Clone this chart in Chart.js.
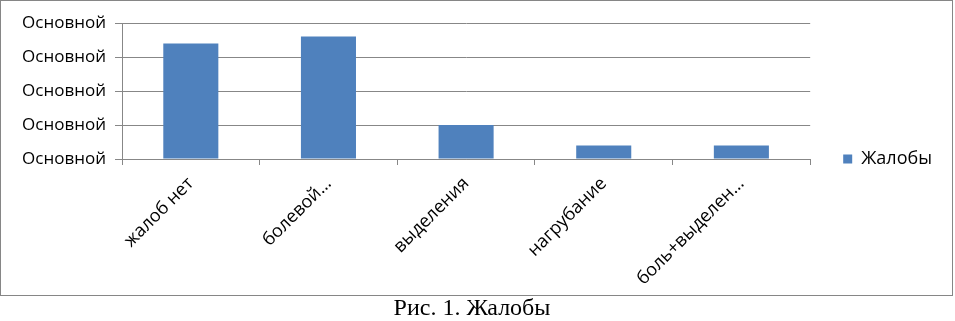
<!DOCTYPE html>
<html>
<head>
<meta charset="utf-8">
<script src="https://cdn.jsdelivr.net/npm/chart.js@4"></script>
<style>
  body { margin: 0; background: #fff; }
  .frame {
    position: absolute; left: 0; top: 0;
    width: 951px; height: 294px;
    border: 1px solid #868686;
  }
  .frame canvas { display: block; }
  .caption {
    position: absolute; left: 0; top: 294px; width: 944px;
    text-align: center;
    font-family: "Liberation Serif", "DejaVu Serif", serif;
    font-size: 24px; color: #000;
  }
</style>
</head>
<body>
<div class="frame"><canvas id="chart" width="951" height="294"></canvas></div>
<div class="caption">Рис. 1. Жалобы</div>
<script>
// данные диаграммы
const categories = ['жалоб нет', 'болевой…', 'выделения', 'нагрубание', 'боль+выделен…'];
const complaints = [17, 18, 5, 2, 2];
const seriesName = 'Жалобы';
const yTicks = [0, 5, 10, 15, 20];
const yTickLabel = 'Основной';

const gridColor = '#878787';
const font = 'Open Sans';

new Chart(document.getElementById('chart'), {
  type: 'bar',
  data: {
    labels: categories,
    datasets: [{
      label: seriesName,
      data: complaints,
      backgroundColor: '#4F81BD',
      barPercentage: 0.4,
      categoryPercentage: 1
    }]
  },
  options: {
    responsive: false,
    animation: false,
    layout: { padding: { top: 22, right: 10, left: 0, bottom: 0 } },
    plugins: {
      legend: {
        position: 'right',
        labels: {
          boxWidth: 9, boxHeight: 9, padding: 33,
          color: '#000',
          font: { family: font, size: 18 }
        }
      },
      tooltip: { enabled: false }
    },
    scales: {
      x: {
        grid: { drawOnChartArea: false, drawTicks: true, tickLength: 6, color: gridColor },
        border: { display: true, color: gridColor },
        ticks: {
          minRotation: 45, maxRotation: 45, autoSkip: false,
          color: '#000', padding: 8,
          font: { family: font, size: 18 }
        },
        afterFit: s => { s.height = 136; }
      },
      y: {
        min: yTicks[0], max: yTicks[yTicks.length - 1],
        afterBuildTicks: s => { s.ticks = yTicks.map(v => ({ value: v })); },
        grid: { color: gridColor, tickLength: 7 },
        border: { display: true, color: gridColor },
        ticks: {
          color: '#000', padding: 9,
          font: { family: font, size: 17 },
          callback: () => yTickLabel
        },
        afterFit: s => { s.width = 121; }
      }
    }
  }
});
</script>
</body>
</html>
